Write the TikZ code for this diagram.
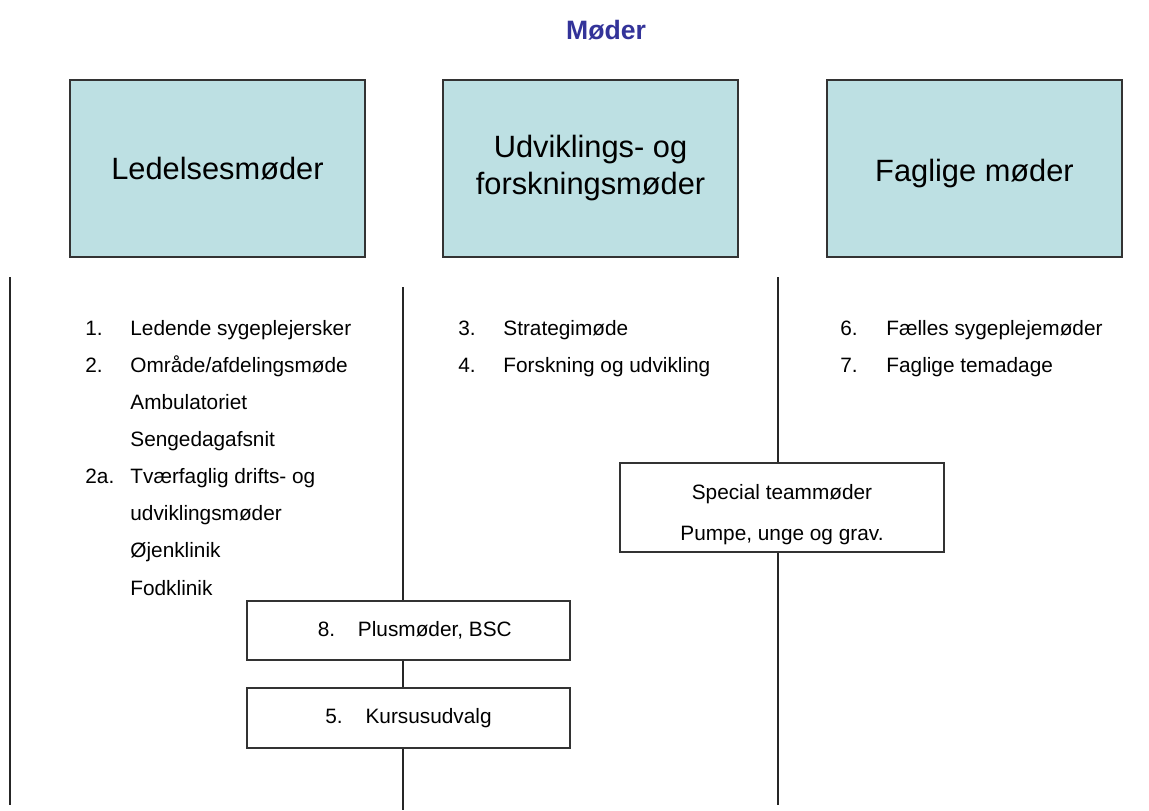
\documentclass[tikz,border=0pt]{standalone}
\usepackage{fontspec}
\setmainfont{Liberation Sans}
\usetikzlibrary{positioning}
\definecolor{headfill}{HTML}{BDE0E3}
\definecolor{titleblue}{HTML}{333399}
\tikzstyle{header} = [rectangle, draw=black!80, fill=headfill, line width=0.6pt, minimum width=147.5pt, minimum height=88.5pt, align=center, font=\fontsize{15.4}{18.5}\selectfont]
\tikzstyle{plain} = [rectangle, draw=black!80, line width=0.6pt, align=center, font=\fontsize{10.4}{20.5}\selectfont]
\tikzstyle{num} = [anchor=base west, inner sep=0pt, font=\fontsize{10.4}{12}\selectfont]
\tikzstyle{item} = [anchor=base west, inner sep=0pt, font=\fontsize{10.4}{12}\selectfont]
\tikzstyle{rule} = [black!85, line width=0.6pt]

\begin{document}
\begin{tikzpicture}[x=0.5pt, y=-0.5pt]
    \useasboundingbox (0,0) rectangle (1149,810);

    \node (title) at (606,30) [font=\fontsize{13.3}{16}\selectfont\bfseries, text=titleblue] {Møder};

    \node (head1) at (217.5,168.5) [header] {Ledelsesmøder};
    \node (head2) at (590.5,168.5) [header] {Udviklings- og\\forskningsmøder};
    \node (head3) at (974.5,168.5) [header] {\rule{0pt}{16pt}Faglige møder};

    % left column
    \node (n1) at (85,335) [num] {1.};
    \node (i1) at (130,335) [item] {Ledende sygeplejersker};
    \node (n2) at (85,372) [num] {2.};
    \node (i2) at (130,372) [item] {Område/afdelingsmøde};
    \node (i2b) at (130,409) [item] {Ambulatoriet};
    \node (i2c) at (130,446) [item] {Sengedagafsnit};
    \node (n2a) at (85,483) [num] {2a.};
    \node (i2a) at (130,483) [item] {Tværfaglig drifts- og};
    \node (i2d) at (130,520) [item] {udviklingsmøder};
    \node (i2e) at (130,557) [item] {Øjenklinik};
    \node (i2f) at (130,595) [item] {Fodklinik};

    % middle column
    \node (n3) at (458,335) [num] {3.};
    \node (i3) at (503,335) [item] {Strategimøde};
    \node (n4) at (458,372) [num] {4.};
    \node (i4) at (503,372) [item] {Forskning og udvikling};

    % right column
    \node (n6) at (840,335) [num] {6.};
    \node (i6) at (886,335) [item] {Fælles sygeplejemøder};
    \node (n7) at (840,372) [num] {7.};
    \node (i7) at (886,372) [item] {Faglige temadage};

    % boxes across the lines
    \node (special) at (782,507.5) [plain, minimum width=162pt, minimum height=44.5pt] {\rule{0pt}{14.6pt}Special teammøder\\Pumpe, unge og grav.};
    \node (plus) at (408.5,630.5) [plain, minimum width=161.5pt, minimum height=29.5pt] {\hspace{0.6em}8.\hspace{1.1em}Plusmøder, BSC};
    \node (kursus) at (408.5,718) [plain, minimum width=161.5pt, minimum height=30pt] {5.\hspace{1.1em}Kursusudvalg};

    \coordinate (ltop) at (10,277);
    \coordinate (lbot) at (10,805);
    \coordinate (mtop) at (403,287);
    \coordinate (mbot) at (403,810);
    \coordinate (rtop) at (778,277);
    \coordinate (rbot) at (778,805);

    \draw [rule] (ltop) -- (lbot);
    \draw [rule] (mtop) -- (mtop |- plus.north);
    \draw [rule] (mtop |- plus.south) -- (mtop |- kursus.north);
    \draw [rule] (mtop |- kursus.south) -- (mbot);
    \draw [rule] (rtop) -- (rtop |- special.north);
    \draw [rule] (rtop |- special.south) -- (rbot);
\end{tikzpicture}
\end{document}
